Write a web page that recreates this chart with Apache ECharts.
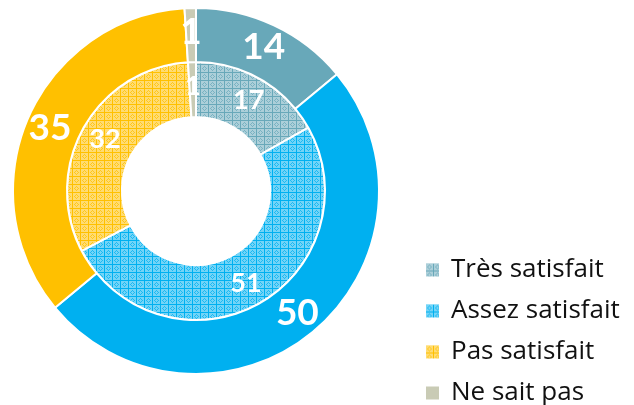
<!DOCTYPE html>
<html>
<head>
<meta charset="utf-8">
<script src="https://cdn.jsdelivr.net/npm/echarts@6/dist/echarts.min.js"></script>
<style>html,body{margin:0;padding:0;background:#fff;}#c{width:634px;height:405px;}</style>
</head>
<body>
<div id="c"></div>
<script>
var categories = ['Très satisfait', 'Assez satisfait', 'Pas satisfait', 'Ne sait pas'];
var outerValues = [14, 50, 35, 1];
var innerValues = [17, 51, 32, 1];
var colors = ['#68a8b9', '#00b0f0', '#ffc000', '#c9cbb5'];

function makePattern(base) {
  var c = document.createElement('canvas');
  c.width = 8; c.height = 8;
  var ctx = c.getContext('2d');
  ctx.fillStyle = '#ffffff';
  ctx.fillRect(0, 0, 8, 8);
  ctx.globalAlpha = 0.55;
  ctx.fillStyle = base;
  ctx.fillRect(0, 0, 8, 8);
  ctx.globalAlpha = 1;
  ctx.fillRect(0, 0, 8, 1);
  ctx.fillRect(0, 0, 1, 8);
  ctx.globalAlpha = 0.75;
  var pts = [[4,2],[2,4],[6,4],[4,6],[3,3],[5,3],[3,5],[5,5]];
  for (var i = 0; i < pts.length; i++) ctx.fillRect(pts[i][0], pts[i][1], 1, 1);
  return { image: c, repeat: 'repeat' };
}

function buildData(values, patterned) {
  return categories.map(function (name, i) {
    return {
      name: name,
      value: values[i],
      itemStyle: { color: (patterned && i < 3) ? makePattern(colors[i]) : colors[i] }
    };
  });
}

var chart = echarts.init(document.getElementById('c'), null, { renderer: 'canvas' });
chart.setOption({
  animation: false,
  legend: {
    orient: 'vertical',
    left: 419,
    top: 250,
    height: 220,
    itemWidth: 15,
    itemHeight: 15,
    itemGap: 11,
    icon: 'rect',
    textStyle: { fontFamily: 'Open Sans', fontSize: 26, color: '#111', lineHeight: 30, padding: [0, 0, 0, 6] },
    data: categories
  },
  series: [
    {
      name: 'inner',
      type: 'pie',
      center: [196, 191],
      radius: [74, 129],
      startAngle: 90,
      clockwise: true,
      avoidLabelOverlap: false,
      itemStyle: { borderColor: '#fff', borderWidth: 2 },
      label: { show: true, position: 'inside', formatter: '{c}', color: '#fff', fontFamily: 'Lato', fontWeight: 'bold', fontSize: 27 },
      labelLine: { show: false },
      emphasis: { disabled: true },
      data: buildData(innerValues, true)
    },
    {
      name: 'outer',
      type: 'pie',
      center: [196, 191],
      radius: [129, 183],
      startAngle: 90,
      clockwise: true,
      avoidLabelOverlap: false,
      itemStyle: { borderColor: '#fff', borderWidth: 2 },
      label: { show: true, position: 'inside', formatter: '{c}', color: '#fff', fontFamily: 'Lato', fontWeight: 'bold', fontSize: 37 },
      labelLine: { show: false },
      emphasis: { disabled: true },
      data: buildData(outerValues, false)
    }
  ]
});
</script>
</body>
</html>
